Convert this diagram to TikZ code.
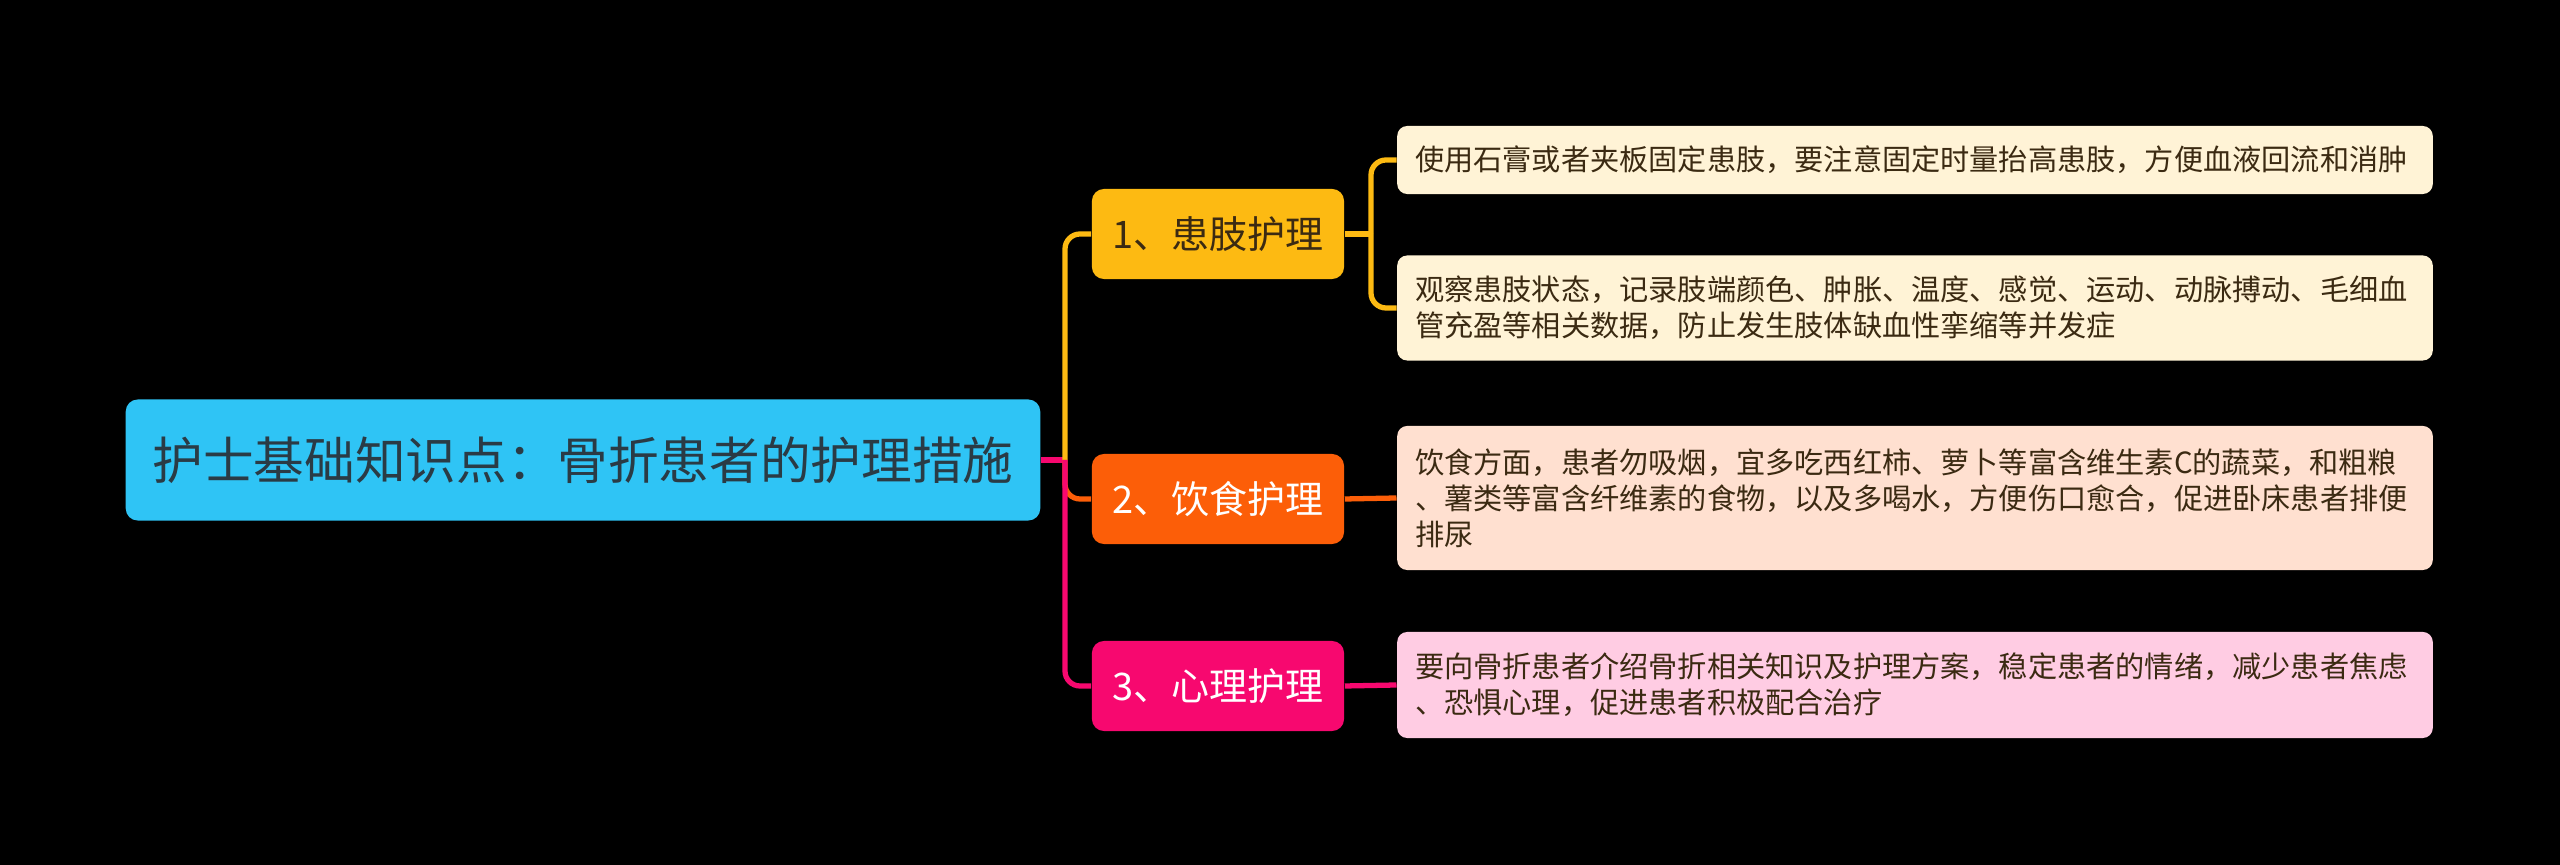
\documentclass[tikz,border=0pt]{standalone}
\usepackage{fontspec}
\newfontfamily\cjk{Noto Sans CJK SC}
\usetikzlibrary{positioning}
\definecolor{rootc}{HTML}{2FC4F5}
\definecolor{roottxt}{HTML}{2A3B45}
\definecolor{amber}{HTML}{FDBA12}
\definecolor{tang}{HTML}{FC5E08}
\definecolor{rose}{HTML}{F7086F}
\definecolor{cream}{HTML}{FFF3D6}
\definecolor{peach}{HTML}{FFE0D0}
\definecolor{blush}{HTML}{FFCCE3}
\definecolor{ink}{HTML}{3B2A12}

\begin{document}
\begin{tikzpicture}[x=0.01cm, y=-0.01cm,
  rootbox/.style={fill=rootc, rounded corners=0.12cm, minimum width=9.14cm,
                  minimum height=1.21cm, text=roottxt,
                  font=\cjk\fontsize{14.4}{17}\selectfont},
  topic/.style={rounded corners=0.12cm, minimum width=2.52cm, minimum height=0.9cm,
                font=\cjk\fontsize{10.8}{13}\selectfont},
  leaf/.style={rounded corners=0.1cm, text width=9.99cm, inner xsep=0.18cm,
               align=left, text=ink, font=\cjk\fontsize{8.3}{10.2}\selectfont},
  link/.style={line width=1.5pt, rounded corners=0.15cm}
]
\fill[black] (0,0) rectangle (2560,865);

\node[rootbox] (root) at (583,460) {护士基础知识点：骨折患者的护理措施};

\node[topic, fill=amber, text=ink] (b1) at (1218,234) {1、患肢护理};
\node[topic, fill=tang, text=white] (b2) at (1218,499) {2、饮食护理};
\node[topic, fill=rose, text=white] (b3) at (1218,686) {3、心理护理};

\node[leaf, fill=cream, minimum height=0.68cm] (l1) at (1915,160)
  {使用石膏或者夹板固定患肢，要注意固定时量抬高患肢，方便血液回流和消肿};
\node[leaf, fill=cream, minimum height=1.05cm] (l2) at (1915,308)
  {观察患肢状态，记录肢端颜色、肿胀、温度、感觉、运动、动脉搏动、毛细血\\
   管充盈等相关数据，防止发生肢体缺血性挛缩等并发症};
\node[leaf, fill=peach, minimum height=1.44cm] (l3) at (1915,498)
  {饮食方面，患者勿吸烟，宜多吃西红柿、萝卜等富含维生素C的蔬菜，和粗粮\\
   、薯类等富含纤维素的食物，以及多喝水，方便伤口愈合，促进卧床患者排便\\
   排尿};
\node[leaf, fill=blush, minimum height=1.06cm] (l4) at (1915,685)
  {要向骨折患者介绍骨折相关知识及护理方案，稳定患者的情绪，减少患者焦虑\\
   、恐惧心理，促进患者积极配合治疗};

% root to topics
\coordinate (hub) at (1065,460);
\draw[link, rose] (root.east) -- (hub);
\draw[link, amber] (hub) |- (b1.west);
\draw[link, tang] (hub) |- (b2.west);
\draw[link, rose] (hub) |- (b3.west);

% topics to leaves
\coordinate (j1) at (1371,234);
\draw[link, amber] (b1.east) -- (j1);
\draw[link, amber] (j1) |- (l1.west);
\draw[link, amber] (j1) |- (l2.west);
\draw[link, tang] (b2.east) -- (l3.west);
\draw[link, rose] (b3.east) -- (l4.west);
\end{tikzpicture}
\end{document}
